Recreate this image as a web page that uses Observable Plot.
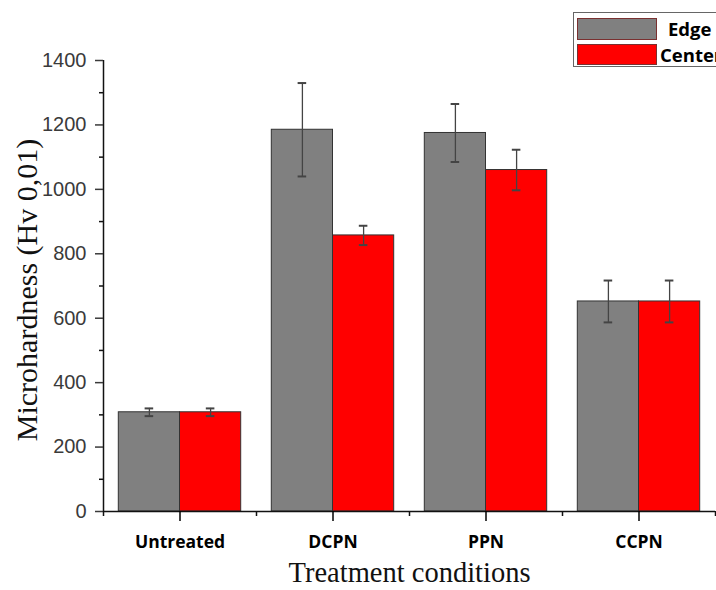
<!DOCTYPE html>
<html><head><meta charset="utf-8">
<script src="https://cdn.jsdelivr.net/npm/d3@7"></script>
<script src="https://cdn.jsdelivr.net/npm/@observablehq/plot@0.6"></script>
<style>
html,body{margin:0;padding:0;background:#fff;overflow:hidden;width:716px;height:590px}
#wrap{position:relative;width:716px;height:590px;overflow:hidden}
.legend{position:absolute;left:573px;top:12px;width:170px;height:53px;border:1.5px solid #666;background:#fff;font-family:"Open Sans",sans-serif;font-weight:700;font-size:18.5px;color:#000}
.row{position:absolute;left:3px;display:flex;align-items:center}
.sw{width:80px;box-sizing:border-box;border:1.5px solid #7a3030}
</style>
</head><body><div id="wrap"></div>
<script>
const categories = ["Untreated", "DCPN", "PPN", "CCPN"];
const seriesNames = ["Edge", "Center"];
const edgeValues = [308, 1185, 1175, 652];
const edgeErrors = [12, 145, 90, 65];
const centerValues = [308, 857, 1060, 652];
const centerErrors = [12, 30, 63, 65];
const seriesColors = ["#808080", "#ff0000"];
const yMajorTicks = [0, 200, 400, 600, 800, 1000, 1200, 1400];
const yMinorTicks = [100, 300, 500, 700, 900, 1100, 1300];
const xLabel = "Treatment conditions";
const yLabel = "Microhardness (Hv 0,01)";

const barW = 0.4;   // fraction of a category slot per bar
const capW = 0.028; // half cap width in category units

const rows = [];
categories.forEach((c, i) => {
  rows.push({i, category: c, series: seriesNames[0], s: 0, value: edgeValues[i], err: edgeErrors[i]});
  rows.push({i, category: c, series: seriesNames[1], s: 1, value: centerValues[i], err: centerErrors[i]});
});
const left = d => d.i + (d.s === 0 ? -barW : 0);
const right = d => d.i + (d.s === 0 ? 0 : barW);
const mid = d => d.i + (d.s === 0 ? -barW / 2 : barW / 2);

const chart = Plot.plot({
  width: 716,
  height: 590,
  marginLeft: 103,
  marginRight: 1,
  marginTop: 60,
  marginBottom: 79,
  style: {fontFamily: "'Liberation Sans', Arial, sans-serif", background: "white", color: "#000"},
  x: {type: "linear", domain: [-0.5, categories.length - 0.5], label: null},
  y: {domain: [0, 1400], label: null},
  color: {domain: seriesNames, range: seriesColors},
  marks: [
    Plot.rectY(rows, {x1: left, x2: right, y1: 0, y2: "value", fill: "series", stroke: "#333", strokeWidth: 1}),
    Plot.ruleX(rows, {x: mid, y1: d => d.value - d.err, y2: d => d.value + d.err, stroke: "#444", strokeWidth: 1.3}),
    Plot.ruleY(rows, {y: d => d.value + d.err, x1: d => mid(d) - capW, x2: d => mid(d) + capW, stroke: "#444", strokeWidth: 2}),
    Plot.ruleY(rows, {y: d => d.value - d.err, x1: d => mid(d) - capW, x2: d => mid(d) + capW, stroke: "#444", strokeWidth: 2}),
    Plot.ruleY([0], {stroke: "#111", strokeWidth: 1.5}),
    Plot.ruleX([-0.5], {stroke: "#111", strokeWidth: 1.5}),
    Plot.axisY({ticks: yMajorTicks, tickSize: 8, tickPadding: 9, tickFormat: d => String(d), fontSize: 20, color: "#3a3a3a", strokeWidth: 1.5, label: null}),
    Plot.axisY({ticks: yMinorTicks, tickSize: 4, tickFormat: () => "", color: "#111", strokeWidth: 1.5, label: null}),
    Plot.axisX({ticks: categories.map((c, i) => i), tickSize: 10, tickPadding: 14, tickFormat: i => categories[i],
      fontSize: 17.5, fontWeight: "bold", fontFamily: "'Open Sans', sans-serif", color: "#000", strokeWidth: 1.5, label: null}),
    Plot.axisX({ticks: d3.range(-0.5, categories.length, 1), tickSize: 5, tickFormat: () => "", color: "#111", strokeWidth: 1.5, label: null}),
    Plot.text([xLabel], {frameAnchor: "bottom", dy: 70, textAnchor: "middle", fontSize: 28.5, fontFamily: "'Liberation Serif', 'Times New Roman', serif", fill: "#111"}),
    Plot.text([yLabel], {frameAnchor: "left", dx: -76, dy: 4, textAnchor: "middle", rotate: -90, fontSize: 30, fontFamily: "'Liberation Serif', 'Times New Roman', serif", fill: "#111"})
  ]
});

const wrap = document.getElementById("wrap");
wrap.appendChild(chart);

const legend = document.createElement("div");
legend.className = "legend";
const tops = [3, 29];
const hs = [22, 21];
const gaps = [11, 3];
seriesNames.forEach((name, k) => {
  const row = document.createElement("div");
  row.className = "row";
  row.style.top = tops[k] + "px";
  const sw = document.createElement("div");
  sw.className = "sw";
  sw.style.height = hs[k] + "px";
  sw.style.background = seriesColors[k];
  const lab = document.createElement("span");
  lab.style.marginLeft = gaps[k] + "px";
  lab.textContent = name;
  row.appendChild(sw);
  row.appendChild(lab);
  legend.appendChild(row);
});
wrap.appendChild(legend);
</script>
</body></html>
